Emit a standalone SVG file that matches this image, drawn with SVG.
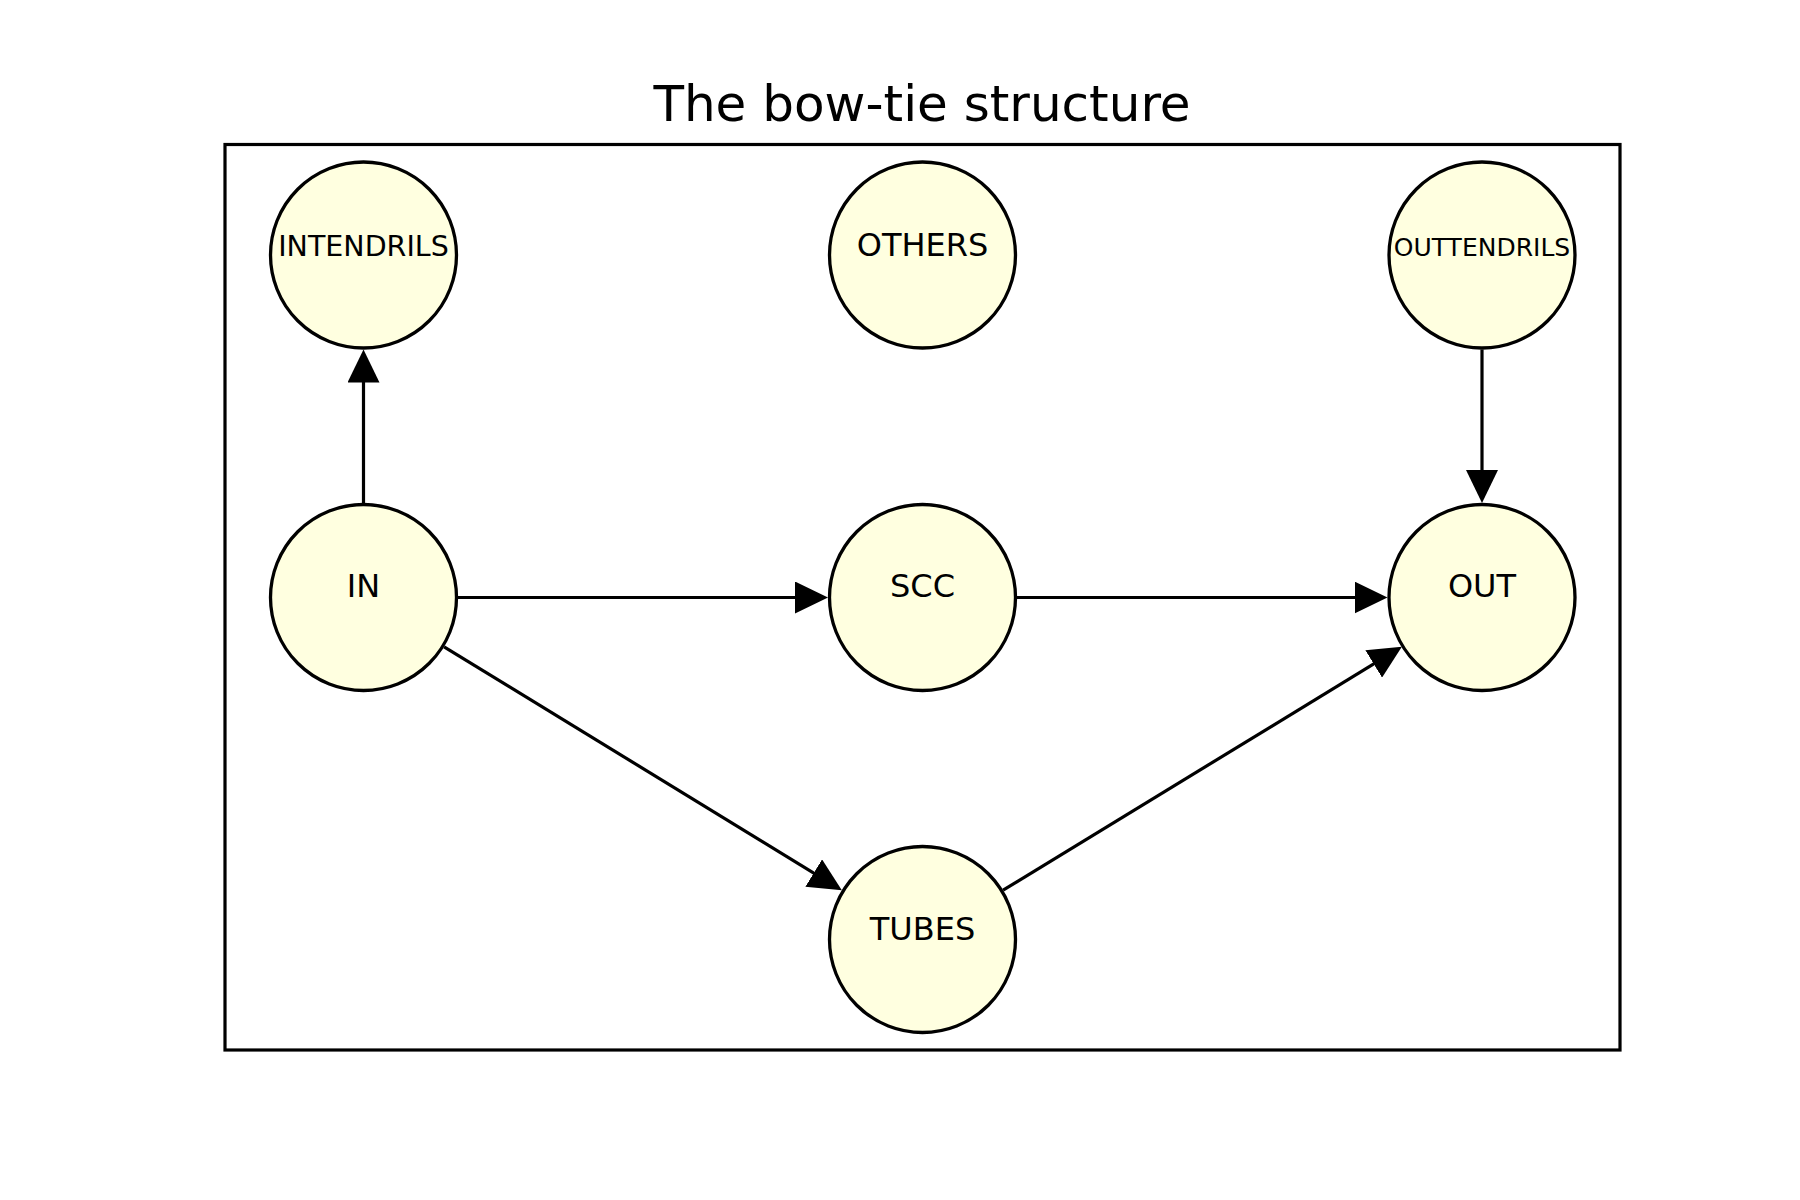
<svg xmlns="http://www.w3.org/2000/svg" width="1800" height="1200" viewBox="0 0 1800 1200">
<style>
.node circle{fill:#ffffe0;stroke:#000;stroke-width:3.3}
.node text{font-family:"DejaVu Sans",sans-serif;font-size:32px;text-anchor:middle;fill:#000}
.edge{stroke:#000;stroke-width:3.2;fill:none;marker-end:url(#arr)}
</style>
<defs>
<marker id="arr" viewBox="0 0 33 32" refX="13" refY="16" markerWidth="33" markerHeight="32" markerUnits="userSpaceOnUse" orient="auto">
<path d="M0,0 L33,16 L0,32 z" fill="#000"/>
</marker>
</defs>
<rect width="1800" height="1200" fill="#fff"/>
<text x="922" y="121" font-family="DejaVu Sans, sans-serif" font-size="50" text-anchor="middle">The bow-tie structure</text>
<rect x="225" y="144.5" width="1395" height="905.5" fill="none" stroke="#000" stroke-width="3.2"/>
<g id="connectors">
<path class="edge" d="M363.5,503 L363.5,369.5"/>
<path class="edge" d="M458,597.5 L808,597.5"/>
<path class="edge" d="M1017,597.5 L1367.5,597.5"/>
<path class="edge" d="M1482,349.5 L1482,483"/>
<path class="edge" d="M444.1,646.8 L824.8,879.8"/>
<path class="edge" d="M1003.1,890.2 L1384.8,657.2"/>
</g>
<g id="node-intendrils" class="node"><circle cx="363.5" cy="255" r="93"/><text x="363.5" y="256" style="font-size:28.5px">INTENDRILS</text></g>
<g id="node-others" class="node"><circle cx="922.5" cy="255" r="93"/><text x="922.5" y="256">OTHERS</text></g>
<g id="node-outtendrils" class="node"><circle cx="1482" cy="255" r="93"/><text x="1482" y="256" style="font-size:25px">OUTTENDRILS</text></g>
<g id="node-in" class="node"><circle cx="363.5" cy="597.5" r="93"/><text x="363.5" y="597">IN</text></g>
<g id="node-scc" class="node"><circle cx="922.5" cy="597.5" r="93"/><text x="922.5" y="597">SCC</text></g>
<g id="node-out" class="node"><circle cx="1482" cy="597.5" r="93"/><text x="1482" y="597">OUT</text></g>
<g id="node-tubes" class="node"><circle cx="922.5" cy="939.5" r="93"/><text x="922.5" y="940">TUBES</text></g>
</svg>
